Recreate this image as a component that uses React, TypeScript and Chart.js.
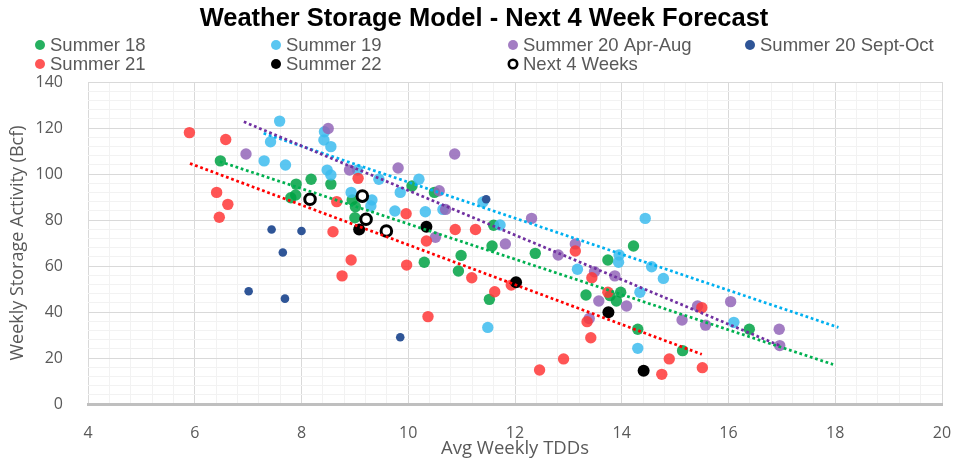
import React, { useEffect, useRef } from 'react';
import { Chart, registerables } from 'chart.js';

Chart.register(...registerables);

const TITLE = 'Weather Storage Model - Next 4 Week Forecast';
const X_TITLE = 'Avg Weekly TDDs';
const Y_TITLE = 'Weekly Storage Activity (Bcf)';

const X_MIN = 4;
const X_MAX = 20;
const Y_MIN = 0;
const Y_MAX = 140;
const X_LABEL_STEP = 2;
const Y_LABEL_STEP = 20;

type P = { x: number; y: number };

const summer18: P[] = [
  { x: 6.48, y: 105.7 }, { x: 8.18, y: 97.7 }, { x: 8.55, y: 95.6 }, { x: 7.9, y: 95.6 },
  { x: 7.89, y: 90.9 }, { x: 7.8, y: 89.7 }, { x: 10.07, y: 94.8 }, { x: 10.49, y: 92.0 },
  { x: 8.95, y: 88.7 }, { x: 9.01, y: 85.8 }, { x: 9.0, y: 81.0 }, { x: 11.6, y: 77.7 },
  { x: 11.57, y: 68.7 }, { x: 10.3, y: 61.6 }, { x: 10.99, y: 64.6 }, { x: 10.94, y: 57.8 },
  { x: 12.38, y: 65.5 }, { x: 13.74, y: 62.6 }, { x: 14.22, y: 68.7 }, { x: 11.52, y: 45.5 },
  { x: 13.33, y: 47.4 }, { x: 13.78, y: 47.1 }, { x: 13.98, y: 48.6 }, { x: 13.9, y: 44.8 },
  { x: 14.3, y: 32.5 }, { x: 15.14, y: 23.2 }, { x: 16.39, y: 32.5 },
];

const summer19: P[] = [
  { x: 7.59, y: 123 }, { x: 8.43, y: 118.4 }, { x: 7.42, y: 114 }, { x: 8.42, y: 114.8 },
  { x: 8.55, y: 111.9 }, { x: 7.3, y: 105.7 }, { x: 7.7, y: 103.9 }, { x: 8.48, y: 101.7 },
  { x: 8.55, y: 99.6 }, { x: 9.05, y: 101.7 }, { x: 9.45, y: 97.7 }, { x: 10.2, y: 97.7 },
  { x: 9.85, y: 92.0 }, { x: 8.93, y: 92.0 }, { x: 9.32, y: 88.7 }, { x: 9.3, y: 86.1 },
  { x: 9.75, y: 83.9 }, { x: 10.32, y: 83.6 }, { x: 10.65, y: 84.6 }, { x: 11.4, y: 87.8 },
  { x: 11.72, y: 77.8 }, { x: 14.44, y: 80.7 }, { x: 13.17, y: 58.6 }, { x: 13.95, y: 64.8 },
  { x: 13.94, y: 61.6 }, { x: 14.56, y: 59.7 }, { x: 14.78, y: 54.6 }, { x: 14.34, y: 48.6 },
  { x: 14.3, y: 24.2 }, { x: 16.1, y: 35.5 }, { x: 11.49, y: 33.3 },
];

const summer20AprAug: P[] = [
  { x: 8.5, y: 119.8 }, { x: 6.96, y: 108.7 }, { x: 9.81, y: 102.6 }, { x: 8.9, y: 101.7 },
  { x: 10.58, y: 92.7 }, { x: 10.7, y: 84.6 }, { x: 10.51, y: 72.5 }, { x: 10.87, y: 108.7 },
  { x: 12.31, y: 80.7 }, { x: 11.82, y: 69.6 }, { x: 12.81, y: 64.8 }, { x: 13.13, y: 69.6 },
  { x: 13.49, y: 57.5 }, { x: 13.87, y: 55.7 }, { x: 13.57, y: 44.8 }, { x: 14.09, y: 42.6 },
  { x: 13.39, y: 37.2 }, { x: 15.13, y: 36.5 }, { x: 15.57, y: 34.3 }, { x: 15.42, y: 42.6 },
  { x: 16.04, y: 44.5 }, { x: 16.95, y: 32.5 }, { x: 16.96, y: 25.4 },
];

const summer20SeptOct: P[] = [
  { x: 7.44, y: 75.9 }, { x: 8.0, y: 75.2 }, { x: 7.65, y: 65.9 }, { x: 7.01, y: 49.0 },
  { x: 7.69, y: 45.8 }, { x: 9.85, y: 29.0 }, { x: 11.46, y: 89.0 },
];

const summer21: P[] = [
  { x: 5.9, y: 118 }, { x: 6.58, y: 115 }, { x: 9.06, y: 98.1 }, { x: 8.66, y: 88.0 },
  { x: 6.41, y: 92.0 }, { x: 6.62, y: 86.8 }, { x: 6.46, y: 81.2 }, { x: 9.96, y: 82.7 },
  { x: 8.59, y: 74.9 }, { x: 10.34, y: 70.9 }, { x: 10.88, y: 75.9 }, { x: 11.26, y: 75.9 },
  { x: 9.97, y: 60.4 }, { x: 8.93, y: 62.6 }, { x: 8.76, y: 55.7 }, { x: 11.19, y: 54.9 },
  { x: 11.62, y: 48.8 }, { x: 11.93, y: 51.7 }, { x: 10.37, y: 38.0 }, { x: 13.13, y: 66.5 },
  { x: 13.44, y: 54.9 }, { x: 13.74, y: 48.6 }, { x: 13.35, y: 35.8 }, { x: 13.42, y: 28.8 },
  { x: 12.46, y: 14.8 }, { x: 12.91, y: 19.6 }, { x: 14.89, y: 19.6 }, { x: 14.75, y: 12.9 },
  { x: 15.51, y: 15.8 }, { x: 15.5, y: 41.9 },
];

const summer22: P[] = [
  { x: 9.08, y: 75.9 }, { x: 10.34, y: 77.1 }, { x: 12.02, y: 52.9 }, { x: 13.75, y: 39.9 },
  { x: 14.41, y: 14.5 },
];

const next4Weeks: P[] = [
  { x: 8.16, y: 89.0 }, { x: 9.14, y: 90.4 }, { x: 9.21, y: 80.3 }, { x: 9.59, y: 75.2 },
];

// Trendline endpoints
const trendSummer20AprAug: P[] = [{ x: 6.92, y: 122.7 }, { x: 16.98, y: 25.2 }];
const trendSummer19: P[] = [{ x: 7.29, y: 117.7 }, { x: 18.06, y: 33.3 }];
const trendSummer18: P[] = [{ x: 6.47, y: 105.4 }, { x: 17.96, y: 17.2 }];
const trendSummer21: P[] = [{ x: 5.91, y: 104.6 }, { x: 15.5, y: 21.6 }];

const SERIES_NAMES = [
  'Summer 18', 'Summer 19', 'Summer 20 Apr-Aug', 'Summer 20 Sept-Oct',
  'Summer 21', 'Summer 22', 'Next 4 Weeks',
];

const C_GREEN = 'rgba(0,162,68,0.85)';
const C_CYAN = 'rgba(61,188,238,0.85)';
const C_PURPLE = 'rgba(147,102,185,0.85)';
const C_BLUE = '#2f5597';
const C_RED = 'rgba(255,55,55,0.85)';
const C_BLACK = '#000000';

const LEGEND_STYLE = [
  { fill: C_GREEN, hollow: false },
  { fill: C_CYAN, hollow: false },
  { fill: C_PURPLE, hollow: false },
  { fill: C_BLUE, hollow: false },
  { fill: C_RED, hollow: false },
  { fill: C_BLACK, hollow: false },
  { fill: '#ffffff', hollow: true },
];

const isMult = (v: number, step: number) => Math.abs(v / step - Math.round(v / step)) < 1e-6;

const headerPlugin = {
  id: 'headerPlugin',
  afterDraw(chart: any) {
    const ctx = chart.ctx as CanvasRenderingContext2D;
    ctx.save();
    ctx.fillStyle = '#000000';
    ctx.font = 'bold 25.5px "Liberation Sans", Arial, sans-serif';
    ctx.textAlign = 'center';
    ctx.textBaseline = 'middle';
    ctx.fillText(TITLE, 484, 19);

    const cols = [40, 276, 513, 750];
    const rows = [45, 64];
    ctx.font = '18.5px "Liberation Sans", Arial, sans-serif';
    ctx.textAlign = 'left';
    SERIES_NAMES.forEach((name, i) => {
      const cx = cols[i % 4];
      const cy = rows[Math.floor(i / 4)];
      const st = LEGEND_STYLE[i];
      ctx.beginPath();
      if (st.hollow) {
        ctx.arc(cx, cy, 4.2, 0, Math.PI * 2);
        ctx.fillStyle = '#ffffff';
        ctx.fill();
        ctx.lineWidth = 2.6;
        ctx.strokeStyle = '#000000';
        ctx.stroke();
      } else {
        ctx.arc(cx, cy, 5, 0, Math.PI * 2);
        ctx.fillStyle = st.fill;
        ctx.fill();
      }
      ctx.fillStyle = '#595959';
      ctx.fillText(name, cx + 10, cy + 1);
    });
    ctx.restore();
  },
};

export default function App() {
  const ref = useRef<HTMLCanvasElement | null>(null);

  useEffect(() => {
    if (!ref.current) return;
    const scatterBase = { showLine: false, pointBorderWidth: 0, borderWidth: 0 };
    const trendBase = {
      type: 'line' as const,
      showLine: true,
      pointRadius: 0,
      borderWidth: 2.75,
      borderDash: [2.75, 2.75],
      fill: false,
      tension: 0,
      order: 0,
    };
    const chart = new Chart(ref.current, {
      type: 'scatter',
      data: {
        datasets: [
          { ...trendBase, label: 'trend20', data: trendSummer20AprAug, borderColor: '#7030a0' },
          { ...trendBase, label: 'trend19', data: trendSummer19, borderColor: '#00b0f0' },
          { ...trendBase, label: 'trend18', data: trendSummer18, borderColor: '#00b050' },
          { ...trendBase, label: 'trend21', data: trendSummer21, borderColor: '#ff0000' },
          {
            label: SERIES_NAMES[6], data: next4Weeks, order: 1, showLine: false,
            pointRadius: 5.3, pointBackgroundColor: '#ffffff', pointBorderColor: '#000000', pointBorderWidth: 3,
          },
          { ...scatterBase, label: SERIES_NAMES[5], data: summer22, order: 2, pointRadius: 6, pointBackgroundColor: C_BLACK },
          { ...scatterBase, label: SERIES_NAMES[4], data: summer21, order: 3, pointRadius: 5.7, pointBackgroundColor: C_RED },
          { ...scatterBase, label: SERIES_NAMES[3], data: summer20SeptOct, order: 4, pointRadius: 4.3, pointBackgroundColor: C_BLUE },
          { ...scatterBase, label: SERIES_NAMES[2], data: summer20AprAug, order: 5, pointRadius: 5.7, pointBackgroundColor: C_PURPLE },
          { ...scatterBase, label: SERIES_NAMES[1], data: summer19, order: 6, pointRadius: 5.7, pointBackgroundColor: C_CYAN },
          { ...scatterBase, label: SERIES_NAMES[0], data: summer18, order: 7, pointRadius: 5.7, pointBackgroundColor: C_GREEN },
        ] as any,
      },
      options: {
        responsive: false,
        animation: false,
        events: [],
        layout: { padding: { top: 82, right: 17, left: 0, bottom: 0 } },
        plugins: {
          legend: { display: false },
          title: { display: false },
          tooltip: { enabled: false },
        },
        scales: {
          x: {
            type: 'linear',
            min: X_MIN,
            max: X_MAX,
            afterFit: (s: any) => { s.height = 58; },
            ticks: {
              stepSize: 0.4,
              autoSkip: false,
              maxRotation: 0,
              padding: 0,
              color: '#595959',
              font: { family: '"Open Sans"', size: 16 },
              callback: (v: any) => (isMult(Number(v), X_LABEL_STEP) ? String(Math.round(Number(v))) : ''),
            },
            grid: {
              drawTicks: true,
              tickLength: 19.5,
              tickColor: 'rgba(0,0,0,0)',
              color: (c: any) => (isMult(c.tick.value, X_LABEL_STEP) ? '#d9d9d9' : '#f2f2f2'),
              lineWidth: 1,
            },
            border: { display: true, color: '#bfbfbf', width: 3 },
            title: {
              display: true,
              text: X_TITLE,
              color: '#595959',
              font: { family: '"Open Sans"', size: 18.5 },
              padding: { top: 0, bottom: 2 },
            },
          },
          y: {
            type: 'linear',
            min: Y_MIN,
            max: Y_MAX,
            afterFit: (s: any) => { s.width = 88; },
            ticks: {
              stepSize: 4,
              autoSkip: false,
              padding: 25,
              color: '#595959',
              font: { family: '"Open Sans"', size: 16 },
              callback: (v: any) => (isMult(Number(v), Y_LABEL_STEP) ? String(Math.round(Number(v))) : ''),
            },
            grid: {
              drawTicks: false,
              color: (c: any) => (isMult(c.tick.value, Y_LABEL_STEP) ? '#d9d9d9' : '#f2f2f2'),
              lineWidth: 1,
            },
            border: { display: false },
            title: {
              display: true,
              text: Y_TITLE,
              color: '#595959',
              font: { family: '"Open Sans"', size: 18 },
              padding: { top: 7, bottom: 0 },
            },
          },
        },
      },
      plugins: [headerPlugin],
    });
    return () => chart.destroy();
  }, []);

  return (
    <div style={{ position: 'absolute', left: 0, top: 0, width: 959, height: 462, background: '#ffffff' }}>
      <canvas ref={ref} width={959} height={462} />
    </div>
  );
}
